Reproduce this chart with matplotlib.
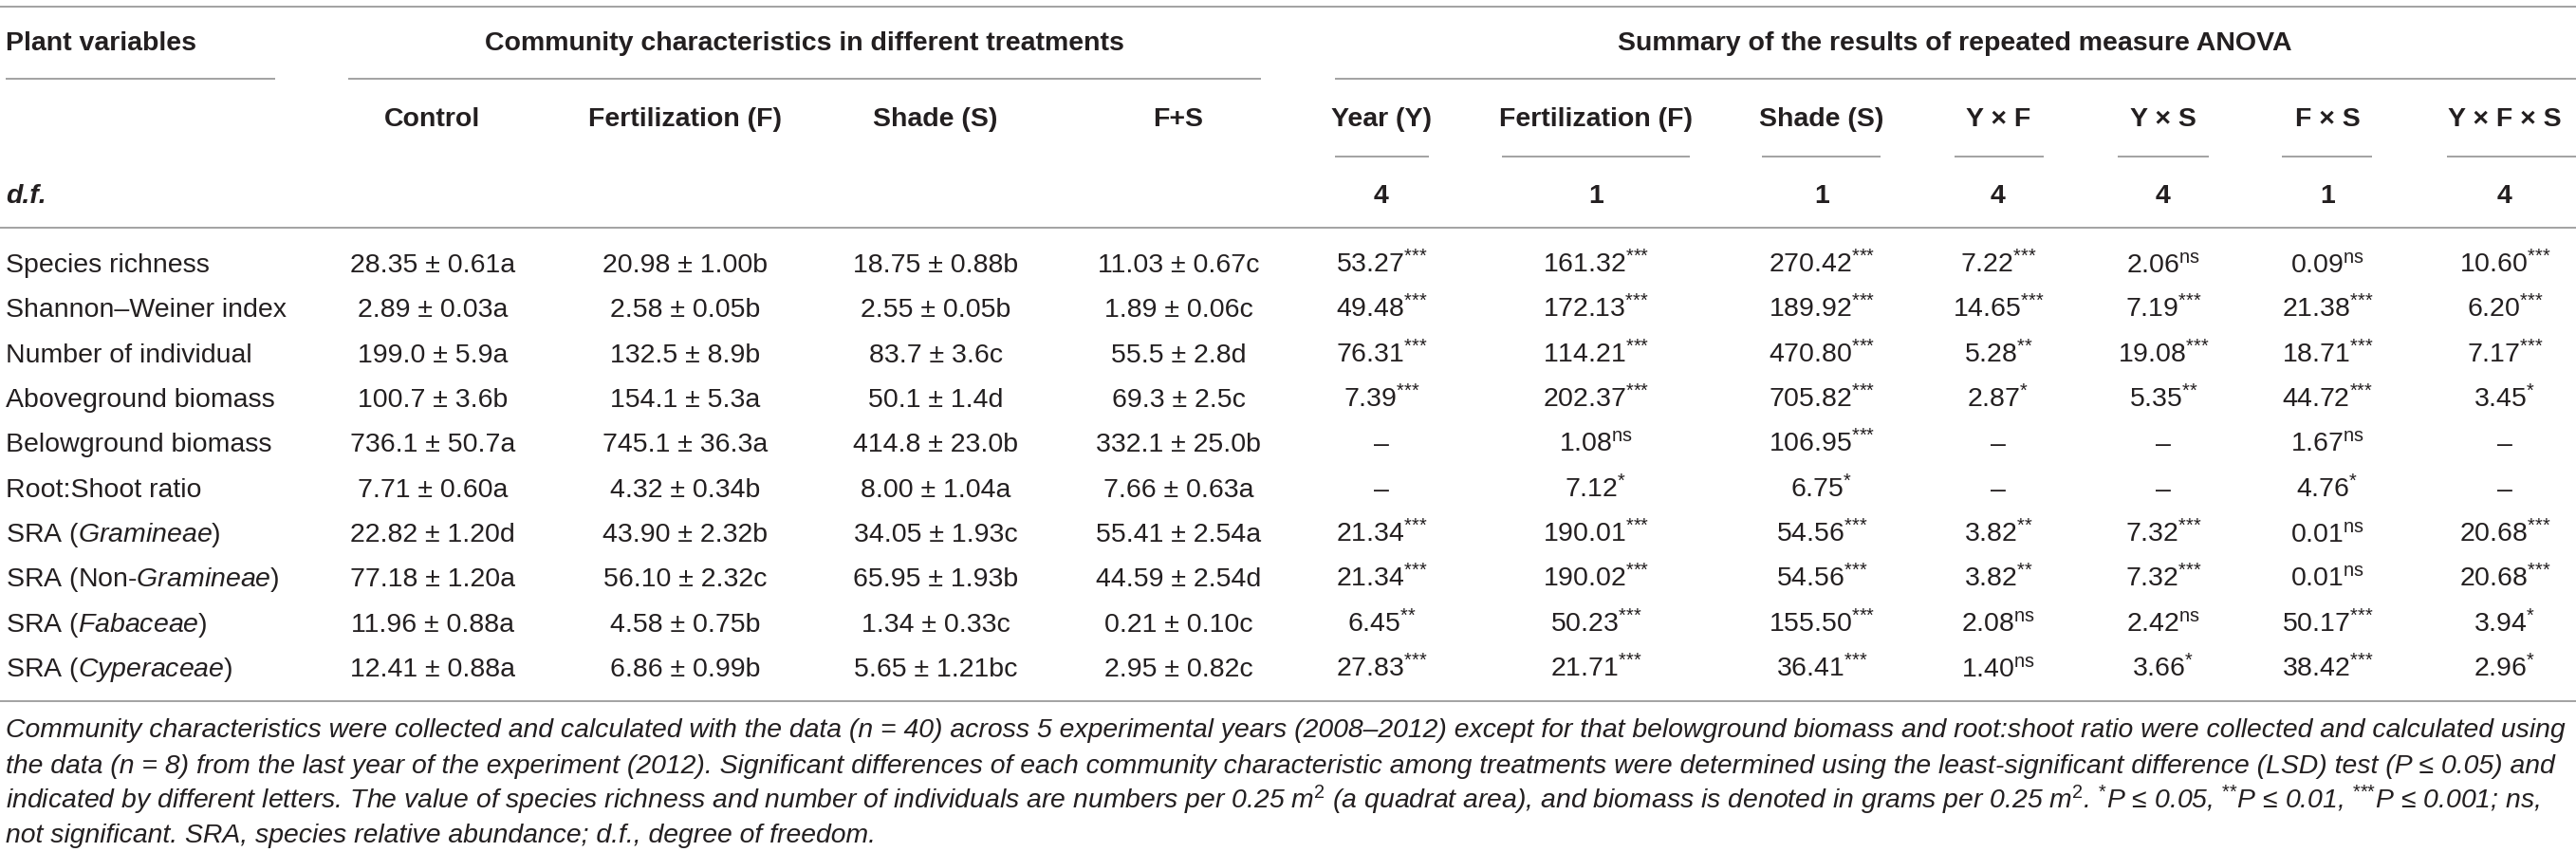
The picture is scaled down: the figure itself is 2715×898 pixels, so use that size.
import matplotlib
matplotlib.use("Agg")
import matplotlib.pyplot as plt

plt.rcParams["font.family"] = ["Liberation Sans", "DejaVu Sans"]
plt.rcParams["mathtext.fontset"] = "custom"
plt.rcParams["mathtext.rm"] = "Liberation Sans"
plt.rcParams["mathtext.it"] = "Liberation Sans:italic"
plt.rcParams["mathtext.bf"] = "Liberation Sans:bold"

# ---- table content ----
row_labels = [
    "Species richness",
    "Shannon\u2013Weiner index",
    "Number of individual",
    "Aboveground biomass",
    "Belowground biomass",
    "Root:Shoot ratio",
    r"SRA ($\mathit{Gramineae}$)",
    r"SRA (Non-$\mathit{Gramineae}$)",
    r"SRA ($\mathit{Fabaceae}$)",
    r"SRA ($\mathit{Cyperaceae}$)",
]

treatments = ["Control", "Fertilization (F)", "Shade (S)", "F+S"]
control = ["28.35 ± 0.61a", "2.89 ± 0.03a", "199.0 ± 5.9a", "100.7 ± 3.6b", "736.1 ± 50.7a",
           "7.71 ± 0.60a", "22.82 ± 1.20d", "77.18 ± 1.20a", "11.96 ± 0.88a", "12.41 ± 0.88a"]
fert = ["20.98 ± 1.00b", "2.58 ± 0.05b", "132.5 ± 8.9b", "154.1 ± 5.3a", "745.1 ± 36.3a",
        "4.32 ± 0.34b", "43.90 ± 2.32b", "56.10 ± 2.32c", "4.58 ± 0.75b", "6.86 ± 0.99b"]
shade = ["18.75 ± 0.88b", "2.55 ± 0.05b", "83.7 ± 3.6c", "50.1 ± 1.4d", "414.8 ± 23.0b",
         "8.00 ± 1.04a", "34.05 ± 1.93c", "65.95 ± 1.93b", "1.34 ± 0.33c", "5.65 ± 1.21bc"]
fert_shade = ["11.03 ± 0.67c", "1.89 ± 0.06c", "55.5 ± 2.8d", "69.3 ± 2.5c", "332.1 ± 25.0b",
              "7.66 ± 0.63a", "55.41 ± 2.54a", "44.59 ± 2.54d", "0.21 ± 0.10c", "2.95 ± 0.82c"]

anova_terms = ["Year (Y)", "Fertilization (F)", "Shade (S)", "Y \u00d7 F", "Y \u00d7 S",
               "F \u00d7 S", "Y \u00d7 F \u00d7 S"]
anova_df = ["4", "1", "1", "4", "4", "1", "4"]

# F values and significance per ANOVA term ("" value means not tested)
f_year = ["53.27", "49.48", "76.31", "7.39", "", "", "21.34", "21.34", "6.45", "27.83"]
s_year = ["***", "***", "***", "***", "", "", "***", "***", "**", "***"]
f_fert = ["161.32", "172.13", "114.21", "202.37", "1.08", "7.12", "190.01", "190.02", "50.23", "21.71"]
s_fert = ["***", "***", "***", "***", "ns", "*", "***", "***", "***", "***"]
f_shade = ["270.42", "189.92", "470.80", "705.82", "106.95", "6.75", "54.56", "54.56", "155.50", "36.41"]
s_shade = ["***", "***", "***", "***", "***", "*", "***", "***", "***", "***"]
f_yf = ["7.22", "14.65", "5.28", "2.87", "", "", "3.82", "3.82", "2.08", "1.40"]
s_yf = ["***", "***", "**", "*", "", "", "**", "**", "ns", "ns"]
f_ys = ["2.06", "7.19", "19.08", "5.35", "", "", "7.32", "7.32", "2.42", "3.66"]
s_ys = ["ns", "***", "***", "**", "", "", "***", "***", "ns", "*"]
f_fs = ["0.09", "21.38", "18.71", "44.72", "1.67", "4.76", "0.01", "0.01", "50.17", "38.42"]
s_fs = ["ns", "***", "***", "***", "ns", "*", "ns", "ns", "***", "***"]
f_yfs = ["10.60", "6.20", "7.17", "3.45", "", "", "20.68", "20.68", "3.94", "2.96"]
s_yfs = ["***", "***", "***", "*", "", "", "***", "***", "*", "*"]

notes = [
    "Community characteristics were collected and calculated with the data (n = 40) across 5 experimental "
    "years (2008\u20132012) except for that belowground biomass and root:shoot ratio were collected and calculated using",
    "the data (n = 8) from the last year of the experiment (2012). Significant differences of each community "
    "characteristic among treatments were determined using the least-significant difference (LSD) test (P \u2264 0.05) and",
    r"indicated by different letters. The value of species richness and number of individuals are numbers per "
    r"0.25 m$^{2}$ (a quadrat area), and biomass is denoted in grams per 0.25 m$^{2}$. "
    r"$^{\text{*}}$P ≤ 0.05, $^{\text{**}}$P ≤ 0.01, $^{\text{***}}$P ≤ 0.001; ns,",
    "not significant. SRA, species relative abundance; d.f., degree of freedom.",
]

# ---- layout (pixel coordinates) ----
W, H = 2715, 898
ink = "#231f20"
rule = "#9b9b9b"
fs = 20.5
base = 10  # baseline offset from visual text centre

treat_x = [456, 722, 986, 1242]
anova_x = [1456, 1682, 1920, 2106, 2280, 2453, 2640]
anova_rule = [(1407, 1506), (1583, 1781), (1857, 1982), (2060, 2154),
              (2232, 2328), (2405, 2500), (2579, 2715)]
row_y = [277, 324, 372, 419, 466, 514, 561, 608, 656, 703]

fig = plt.figure(figsize=(W / 100, H / 100), dpi=100)
ax = fig.add_axes([0, 0, 1, 1])
ax.set_xlim(0, W)
ax.set_ylim(H, 0)
ax.axis("off")


def txt(x, y, s, **kw):
    kw.setdefault("fontsize", fs)
    kw.setdefault("color", ink)
    kw.setdefault("ha", "center")
    return ax.text(x, y + base, s, va="baseline", **kw)


# rules
ax.hlines(7, 0, W, color=rule, lw=1.3)
ax.hlines(83, 6, 290, color=rule, lw=1.3)
ax.hlines(83, 367, 1329, color=rule, lw=1.3)
ax.hlines(83, 1407, W, color=rule, lw=1.3)
for x0, x1 in anova_rule:
    ax.hlines(165, x0, x1, color=rule, lw=1.3)
ax.hlines(240, 0, W, color=rule, lw=1.3)
ax.hlines(739, 0, W, color=rule, lw=1.3)

# headers
txt(6, 43, "Plant variables", ha="left", fontweight="bold")
txt(848, 43, "Community characteristics in different treatments", fontweight="bold")
txt(2060, 43, "Summary of the results of repeated measure ANOVA", fontweight="bold")
for x, name in zip(treat_x, treatments):
    txt(x, 123, name, fontweight="bold")
for x, name in zip(anova_x, anova_terms):
    txt(x, 123, name, fontweight="bold")

# d.f. row
txt(6, 204, "d.f.", ha="left", fontweight="bold", fontstyle="italic")
for x, d in zip(anova_x, anova_df):
    txt(x, 204, d, fontweight="bold")

# body
treat_cols = [control, fert, shade, fert_shade]
anova_cols = [(f_year, s_year), (f_fert, s_fert), (f_shade, s_shade), (f_yf, s_yf),
              (f_ys, s_ys), (f_fs, s_fs), (f_yfs, s_yfs)]
for i, y in enumerate(row_y):
    txt(6, y, row_labels[i], ha="left")
    for x, col in zip(treat_x, treat_cols):
        txt(x, y, col[i])
    for x, (vals, sigs) in zip(anova_x, anova_cols):
        if vals[i] == "":
            txt(x, y, "\u2013")
        else:
            txt(x, y, vals[i] + r"$^{\text{" + sigs[i] + "}}$")

# footnote, fitted to the table width
note_y = [767, 805, 842, 878]
note_txt = [txt(6, y, s, ha="left", fontstyle="italic", fontsize=18) for y, s in zip(note_y, notes)]
fig.canvas.draw()
r = fig.canvas.get_renderer()
w = note_txt[0].get_window_extent(r).width
scale = 2700 / w
for t in note_txt:
    t.set_fontsize(18 * scale)

fig.savefig("out.png", dpi=100)
